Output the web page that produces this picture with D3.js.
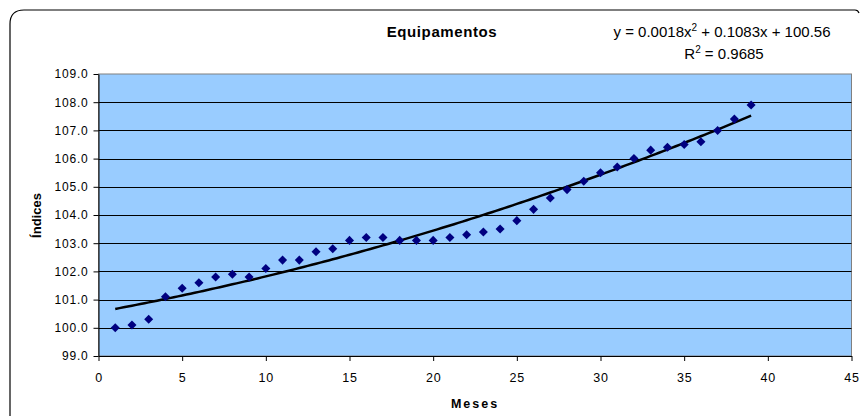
<!DOCTYPE html>
<html><head><meta charset="utf-8">
<script src="https://cdn.jsdelivr.net/npm/d3@7"></script>
<style>html,body{margin:0;padding:0;background:#fff;}svg{display:block;font-family:"Liberation Sans",Arial,sans-serif;}</style>
</head><body>
<svg id="c" width="861" height="416"></svg>
<script>
const months = [1,2,3,4,5,6,7,8,9,10,11,12,13,14,15,16,17,18,19,20,21,22,23,24,25,26,27,28,29,30,31,32,33,34,35,36,37,38,39];
const indices = [100.0,100.1,100.3,101.1,101.4,101.6,101.8,101.9,101.8,102.1,102.4,102.4,102.7,102.8,103.1,103.2,103.2,103.1,103.1,103.1,103.2,103.3,103.4,103.5,103.8,104.2,104.6,104.9,105.2,105.5,105.7,106.0,106.3,106.4,106.5,106.6,107.0,107.4,107.9];
const trendCoef = [0.0018, 0.1083, 100.56]; // a, b, c
const xTicks = [0,5,10,15,20,25,30,35,40,45];
const yTicks = [99,100,101,102,103,104,105,106,107,108,109];
const title = "Equipamentos";
const xTitle = "Meses";
const yTitle = "Índices";

const svg = d3.select("#c");
const L = 98.5, R = 851.5, T = 74, B = 356;
const x = d3.scaleLinear().domain([0,45]).range([L,R]);
const y = d3.scaleLinear().domain([99,109]).range([B,T]);

// outer frame
svg.append("path")
  .attr("d", `M10,424 L10,24 Q10,10 24,10 L855,10 Q858,10 859,13`)
  .attr("fill","none").attr("stroke","#000").attr("stroke-width",1.2);

// plot background
svg.append("rect").attr("x",L).attr("y",T).attr("width",R-L).attr("height",B-T).attr("fill","#99CCFF");
svg.append("rect").attr("x",L).attr("y",T).attr("width",R-L).attr("height",B-T)
  .attr("fill","none").attr("stroke","#808080").attr("stroke-width",1);

// gridlines
svg.append("g").selectAll("line").data(yTicks.filter(d=>d>99 && d<109)).join("line")
  .attr("x1",L).attr("x2",R).attr("y1",d=>Math.round(y(d))+0.5).attr("y2",d=>Math.round(y(d))+0.5)
  .attr("stroke","#000").attr("stroke-width",1);

// axes
const yAxis = d3.axisLeft(y).tickValues(yTicks).tickFormat(d3.format(".1f")).tickSize(5).tickSizeOuter(0);
const gy = svg.append("g").attr("transform",`translate(${L},0)`).call(yAxis);
gy.selectAll("text").attr("font-size","12px").attr("letter-spacing","0.8px").attr("fill","#000").attr("x",-10).attr("font-family","Liberation Sans, Arial, sans-serif");
gy.select(".domain").attr("stroke","#000");

const xAxis = d3.axisBottom(x).tickValues(xTicks).tickFormat(d3.format("d")).tickSize(5).tickSizeOuter(0);
const gx = svg.append("g").attr("transform",`translate(0,${B})`).call(xAxis);
gx.selectAll("text").attr("font-size","12.5px").attr("letter-spacing","0.8px").attr("fill","#000").attr("dy","1.45em").attr("font-family","Liberation Sans, Arial, sans-serif");
gx.select(".domain").attr("stroke","#000");
gy.selectAll(".tick line").attr("stroke","#000");
gx.selectAll(".tick line").attr("stroke","#000");

// trend line
const trendPts = d3.range(months[0], months[months.length-1]+0.001, 0.25).map(m => [m, trendCoef[0]*m*m + trendCoef[1]*m + trendCoef[2]]);
svg.append("path").datum(trendPts)
  .attr("d", d3.line().x(d=>x(d[0])).y(d=>y(d[1])))
  .attr("fill","none").attr("stroke","#000").attr("stroke-width",2.5);

// markers
const diamond = d3.symbol().type(d3.symbolDiamond2).size(52);
svg.append("g").selectAll("path").data(months.map((m,i)=>[m,indices[i]])).join("path")
  .attr("transform", d=>`translate(${x(d[0])},${y(d[1])})`)
  .attr("d", diamond).attr("fill","#000080");

// titles
svg.append("text").attr("x",442).attr("y",37).attr("text-anchor","middle")
  .attr("font-size","15px").attr("font-weight","bold").attr("letter-spacing","0.6px").text(title);
svg.append("text").attr("x",475).attr("y",408).attr("text-anchor","middle")
  .attr("font-size","12.5px").attr("font-weight","bold").attr("letter-spacing","2px").text(xTitle);
svg.append("text").attr("transform","translate(41,215.5) rotate(-90)").attr("text-anchor","middle")
  .attr("font-size","13px").attr("font-weight","bold").text(yTitle);

// equation
const eq = svg.append("text").attr("x",722).attr("y",37).attr("text-anchor","middle").attr("font-size","15px");
eq.append("tspan").text(`y = ${trendCoef[0]}x`);
eq.append("tspan").attr("dy",-6).attr("font-size","10px").text("2");
eq.append("tspan").attr("dy",6).text(` + ${trendCoef[1]}x + ${trendCoef[2]}`);
const r2 = svg.append("text").attr("x",724).attr("y",59).attr("text-anchor","middle").attr("font-size","15px");
r2.append("tspan").text("R");
r2.append("tspan").attr("dy",-6).attr("font-size","10px").text("2");
r2.append("tspan").attr("dy",6).text(" = 0.9685");
</script>
</body></html>
